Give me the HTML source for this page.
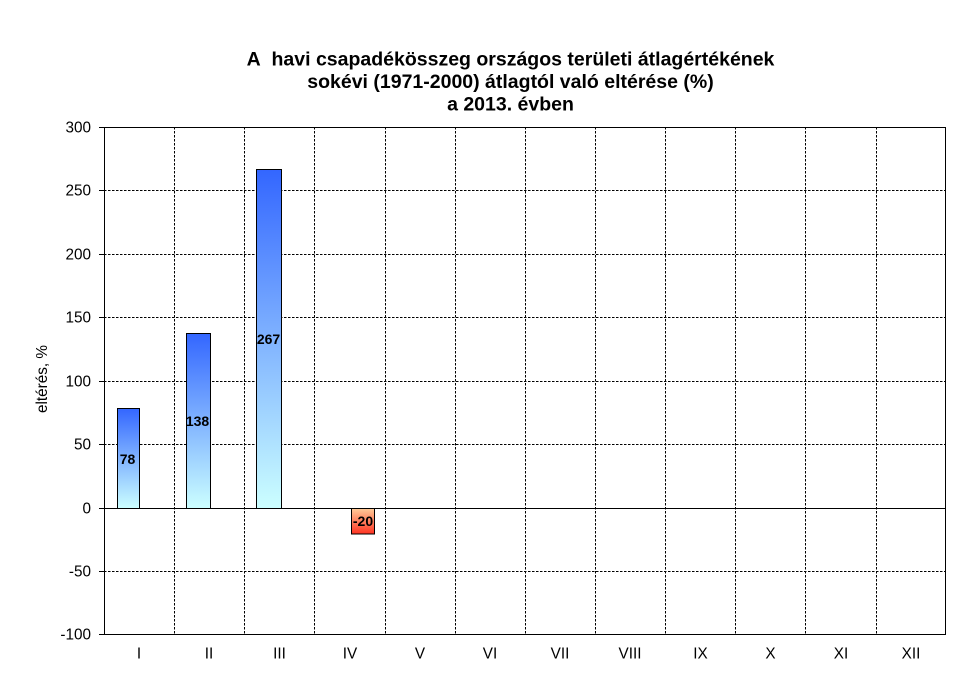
<!DOCTYPE html>
<html>
<head>
<meta charset="utf-8">
<style>
html,body{margin:0;padding:0;background:#fff;}
svg{display:block;}
text{font-family:"Liberation Sans",Arial,sans-serif;fill:#000;}
</style>
</head>
<body>
<svg width="977" height="691" viewBox="0 0 977 691" xmlns="http://www.w3.org/2000/svg">
<defs>
<linearGradient id="gb" x1="0" y1="0" x2="0" y2="1">
<stop offset="0" stop-color="#3366FF"/>
<stop offset="1" stop-color="#CCFFFF"/>
</linearGradient>
<linearGradient id="gr" x1="0" y1="0" x2="0" y2="1">
<stop offset="0" stop-color="#FFCC99"/>
<stop offset="1" stop-color="#FF3322"/>
</linearGradient>
</defs>
<rect width="977" height="691" fill="#fff"/>

<!-- Title -->
<g font-weight="bold" font-size="19.5" text-anchor="middle">
<text x="510.5" y="65.7">A&#160; havi csapadékösszeg országos területi átlagértékének</text>
<text x="510.5" y="88.2">sokévi (1971-2000) átlagtól való eltérése (%)</text>
<text x="510.5" y="110.7">a 2013. évben</text>
</g>

<!-- Horizontal dashed gridlines -->
<g stroke="#000" stroke-width="1" stroke-dasharray="2.5,1.5" fill="none">
<line x1="104" y1="190.5" x2="946" y2="190.5"/>
<line x1="104" y1="254.5" x2="946" y2="254.5"/>
<line x1="104" y1="317.5" x2="946" y2="317.5"/>
<line x1="104" y1="381.5" x2="946" y2="381.5"/>
<line x1="104" y1="444.5" x2="946" y2="444.5"/>
<line x1="104" y1="571.5" x2="946" y2="571.5"/>
<!-- vertical -->
<line x1="174.5" y1="127" x2="174.5" y2="634"/>
<line x1="244.5" y1="127" x2="244.5" y2="634"/>
<line x1="314.5" y1="127" x2="314.5" y2="634"/>
<line x1="385.5" y1="127" x2="385.5" y2="634"/>
<line x1="455.5" y1="127" x2="455.5" y2="634"/>
<line x1="525.5" y1="127" x2="525.5" y2="634"/>
<line x1="595.5" y1="127" x2="595.5" y2="634"/>
<line x1="665.5" y1="127" x2="665.5" y2="634"/>
<line x1="735.5" y1="127" x2="735.5" y2="634"/>
<line x1="805.5" y1="127" x2="805.5" y2="634"/>
<line x1="876.5" y1="127" x2="876.5" y2="634"/>
</g>

<!-- Bars -->
<g stroke="#000" stroke-width="1">
<rect x="117.5" y="408.5" width="22" height="100" fill="url(#gb)"/>
<rect x="186.5" y="333.5" width="24" height="175" fill="url(#gb)"/>
<rect x="256.5" y="169.5" width="25" height="339" fill="url(#gb)"/>
<rect x="351.5" y="508.5" width="23" height="25.5" fill="url(#gr)"/>
</g>

<!-- Plot border & zero axis -->
<g stroke="#000" stroke-width="1" fill="none">
<rect x="104.5" y="127.5" width="841" height="507"/>
<line x1="99" y1="508.5" x2="946" y2="508.5"/>
<line x1="99" y1="127.5" x2="104" y2="127.5"/>
<line x1="99" y1="190.5" x2="104" y2="190.5"/>
<line x1="99" y1="254.5" x2="104" y2="254.5"/>
<line x1="99" y1="317.5" x2="104" y2="317.5"/>
<line x1="99" y1="381.5" x2="104" y2="381.5"/>
<line x1="99" y1="444.5" x2="104" y2="444.5"/>
<line x1="99" y1="571.5" x2="104" y2="571.5"/>
<line x1="99" y1="634.5" x2="104" y2="634.5"/>
</g>

<!-- Bar labels -->
<g font-weight="bold" font-size="14" text-anchor="middle">
<text x="127.5" y="464">78</text>
<text x="197.5" y="426">138</text>
<text x="268.5" y="344">267</text>
<text x="363" y="526">-20</text>
</g>

<!-- Y tick labels -->
<g font-size="15.3" text-anchor="end">
<text x="91" y="132.5">300</text>
<text x="91" y="195.5">250</text>
<text x="91" y="259.5">200</text>
<text x="91" y="322.5">150</text>
<text x="91" y="386.5">100</text>
<text x="91" y="449.5">50</text>
<text x="91" y="513.5">0</text>
<text x="91" y="576.5">-50</text>
<text x="91" y="639.5">-100</text>
</g>

<!-- Y axis title -->
<text font-size="15.3" text-anchor="middle" transform="translate(47,379) rotate(-90)">eltérés, %</text>

<!-- Category labels -->
<g font-size="15.3" text-anchor="middle">
<text x="139" y="658.5">I</text>
<text x="209" y="658.5">II</text>
<text x="279.5" y="658.5">III</text>
<text x="350" y="658.5">IV</text>
<text x="420" y="658.5">V</text>
<text x="490" y="658.5">VI</text>
<text x="560" y="658.5">VII</text>
<text x="630" y="658.5">VIII</text>
<text x="700.5" y="658.5">IX</text>
<text x="770.5" y="658.5">X</text>
<text x="841" y="658.5">XI</text>
<text x="911" y="658.5">XII</text>
</g>
</svg>
</body>
</html>
